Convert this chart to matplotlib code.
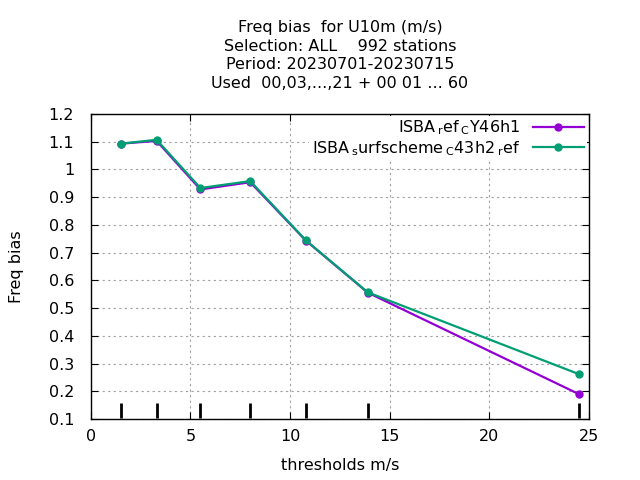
import matplotlib
matplotlib.use("Agg")
import matplotlib.pyplot as plt

thresholds = [1.5, 3.3, 5.5, 8.0, 10.8, 13.9, 24.5]
ref_cy46 = [1.093, 1.103, 0.928, 0.954, 0.743, 0.556, 0.190]
surf_c43 = [1.093, 1.107, 0.933, 0.958, 0.744, 0.557, 0.262]
labels = [r"ISBA$\,_{\rm r}$ef$\,_{\rm C}$Y46h1",
          r"ISBA$\,_{\rm s}$urfscheme$\,_{\rm C}$43h2$\,_{\rm r}$ef"]
title = ("Freq bias  for U10m (m/s)\nSelection: ALL    992 stations\n"
         "Period: 20230701-20230715\nUsed  00,03,...,21 + 00 01 ... 60")

plt.rcParams['font.family'] = ['DejaVu Sans']
plt.rcParams['mathtext.fontset'] = 'dejavusans'

fig = plt.figure(figsize=(6.4, 4.8), dpi=100)
ax = fig.add_axes([0.142, 0.127, 0.778, 0.6355])

ax.plot(thresholds, ref_cy46, color='#9400d3', lw=1.6, marker='o', ms=5,
        label=labels[0], zorder=3)
ax.plot(thresholds, surf_c43, color='#009e73', lw=1.6, marker='o', ms=5,
        label=labels[1], zorder=3)
ax.vlines(thresholds, 0.105, 0.157, color='black', lw=2, zorder=3)

ax.set_xlim(0, 25)
ax.set_ylim(0.1, 1.2)
ax.set_xticks([0, 5, 10, 15, 20, 25])
ax.set_yticks([0.1, 0.2, 0.3, 0.4, 0.5, 0.6, 0.7, 0.8, 0.9, 1.0, 1.1, 1.2])
ax.set_yticklabels(['0.1', '0.2', '0.3', '0.4', '0.5', '0.6', '0.7', '0.8',
                    '0.9', '1', '1.1', '1.2'])
ax.tick_params(direction='in', top=True, right=True, length=5, labelsize=11.5)
ax.tick_params(axis='x', pad=7)
ax.tick_params(axis='y', pad=12)
ax.grid(True, color='#a0a0a0', ls=(0, (2, 3)), lw=0.8)
ax.set_axisbelow(True)
for s in ax.spines.values():
    s.set_linewidth(1.0)

ax.set_xlabel('thresholds m/s', fontsize=11.5, labelpad=10)
ax.set_ylabel('Freq bias', fontsize=11.5, labelpad=18)
ax.set_title(title, fontsize=11.5, linespacing=1.32, pad=18.5)

leg = ax.legend(loc='upper right', frameon=True, fontsize=11.5,
                markerfirst=False, handlelength=3.2, borderaxespad=0.1,
                labelspacing=0.1, handletextpad=0.8, borderpad=0.2)
leg.get_frame().set_edgecolor('none')
leg.get_frame().set_facecolor('white')
leg.get_frame().set_alpha(1)
leg.get_frame().set_boxstyle('square', pad=0)
for t in leg.get_texts():
    t.set_ha('right')

fig.savefig('out.png', dpi=100)
